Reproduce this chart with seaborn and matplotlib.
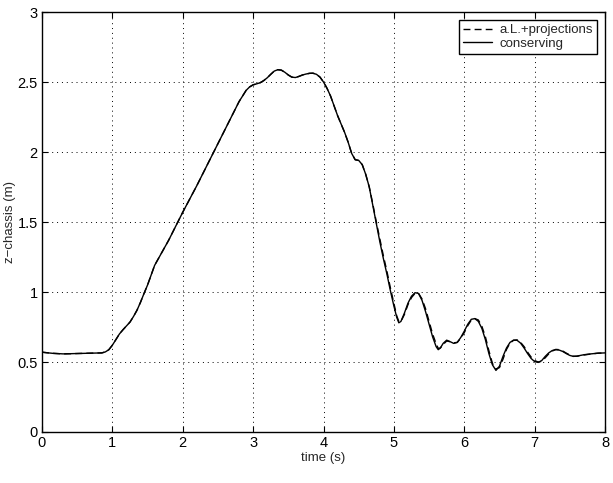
import numpy as np
import pandas as pd
import matplotlib
matplotlib.use('Agg')
import matplotlib.pyplot as plt
import seaborn as sns

# ── Data ─────────────────────────────────────────────────────
time_s = [0.0, 0.15, 0.3, 0.6, 0.8, 0.85, 0.9, 0.95, 1.0, 1.05, 1.1, 1.15,
          1.2, 1.25, 1.3, 1.35, 1.4, 1.45, 1.5, 1.55, 1.6, 1.7, 1.8, 1.9,
          2.0, 2.2, 2.4, 2.6, 2.8, 2.85, 2.9, 2.95, 3.0, 3.05, 3.1, 3.15,
          3.2, 3.25, 3.3, 3.35, 3.4, 3.45, 3.5, 3.55, 3.6, 3.65, 3.7, 3.75,
          3.8, 3.85, 3.9, 3.95, 4.0, 4.05, 4.1, 4.15, 4.2, 4.25, 4.3, 4.35,
          4.4, 4.45, 4.5, 4.55, 4.6, 4.65, 4.7, 4.75, 4.8, 4.85, 4.9, 4.95,
          5.0, 5.04, 5.07, 5.1, 5.15, 5.2, 5.25, 5.3, 5.35, 5.4, 5.45, 5.5,
          5.55, 5.6, 5.63, 5.66, 5.7, 5.75, 5.8, 5.85, 5.9, 5.95, 6.0, 6.05,
          6.1, 6.15, 6.2, 6.25, 6.3, 6.35, 6.4, 6.45, 6.5, 6.55, 6.6, 6.65,
          6.7, 6.75, 6.8, 6.85, 6.9, 6.95, 7.0, 7.05, 7.1, 7.15, 7.2, 7.25,
          7.3, 7.35, 7.4, 7.45, 7.5, 7.55, 7.6, 7.7, 7.8, 7.9, 8.0]

z_conserving = [0.57, 0.562, 0.558, 0.562, 0.564, 0.565, 0.572, 0.588, 0.62,
                0.66, 0.70, 0.73, 0.757, 0.785, 0.825, 0.87, 0.927, 0.99, 1.05,
                1.12, 1.19, 1.28, 1.37, 1.47, 1.57, 1.76, 1.96, 2.16, 2.36,
                2.40, 2.44, 2.465, 2.48, 2.487, 2.495, 2.51, 2.53, 2.555,
                2.578, 2.588, 2.585, 2.57, 2.55, 2.535, 2.532, 2.54, 2.55,
                2.557, 2.562, 2.563, 2.555, 2.535, 2.50, 2.455, 2.40, 2.33,
                2.26, 2.2, 2.14, 2.07, 1.99, 1.945, 1.94, 1.91, 1.84, 1.75,
                1.62, 1.49, 1.36, 1.24, 1.13, 1.01, 0.90, 0.82, 0.78, 0.79,
                0.85, 0.92, 0.97, 0.995, 0.99, 0.94, 0.86, 0.77, 0.68, 0.61,
                0.588, 0.60, 0.633, 0.656, 0.645, 0.633, 0.64, 0.675, 0.72,
                0.77, 0.805, 0.81, 0.79, 0.74, 0.66, 0.56, 0.48, 0.44, 0.47,
                0.54, 0.60, 0.64, 0.656, 0.655, 0.635, 0.6, 0.56, 0.525,
                0.503, 0.497, 0.51, 0.54, 0.565, 0.582, 0.588, 0.585, 0.575,
                0.56, 0.547, 0.54, 0.542, 0.552, 0.558, 0.563, 0.565]

z_projections = [0.57, 0.562, 0.558, 0.562, 0.564, 0.565, 0.572, 0.588, 0.62,
                 0.66, 0.70, 0.73, 0.757, 0.785, 0.825, 0.87, 0.927, 0.99,
                 1.05, 1.12, 1.19, 1.28, 1.37, 1.47, 1.57, 1.76, 1.96, 2.16,
                 2.36, 2.40, 2.44, 2.465, 2.48, 2.487, 2.495, 2.51, 2.53,
                 2.555, 2.578, 2.588, 2.585, 2.57, 2.55, 2.535, 2.532, 2.54,
                 2.55, 2.557, 2.562, 2.563, 2.555, 2.535, 2.50, 2.455, 2.40,
                 2.33, 2.26, 2.2, 2.14, 2.07, 1.99, 1.945, 1.94, 1.91, 1.84,
                 1.75, 1.63, 1.50, 1.38, 1.26, 1.15, 1.03, 0.92, 0.83, 0.79,
                 0.79, 0.84, 0.91, 0.96, 0.99, 0.99, 0.95, 0.88, 0.79, 0.70,
                 0.63, 0.597, 0.60, 0.625, 0.65, 0.645, 0.637, 0.64, 0.67,
                 0.71, 0.76, 0.80, 0.81, 0.80, 0.755, 0.68, 0.58, 0.49, 0.45,
                 0.46, 0.52, 0.59, 0.635, 0.655, 0.658, 0.64, 0.61, 0.57,
                 0.535, 0.51, 0.50, 0.505, 0.53, 0.558, 0.578, 0.59, 0.588,
                 0.578, 0.563, 0.55, 0.541, 0.541, 0.55, 0.557, 0.563, 0.565]

df = pd.DataFrame({'time': time_s,
                   'conserving': z_conserving,
                   'a.L.+projections': z_projections})

# ── Style ────────────────────────────────────────────────────
sns.set_style('ticks')
plt.rcParams['font.family'] = ['Liberation Sans', 'DejaVu Sans']
plt.rcParams['xtick.direction'] = 'in'
plt.rcParams['ytick.direction'] = 'in'

fig = plt.figure(figsize=(6.13, 4.83), dpi=100)
ax = fig.add_axes([0.0685, 0.1056, 0.9185, 0.8695])

sns.lineplot(data=df, x='time', y='a.L.+projections', ax=ax, color='black',
             linestyle=(0, (5, 3)), linewidth=1.0, label='a.L.+projections')
sns.lineplot(data=df, x='time', y='conserving', ax=ax, color='black',
             linewidth=1.0, label='conserving')

ax.set_xlim(0, 8)
ax.set_ylim(0, 3)
ax.set_xticks(range(0, 9))
ax.set_yticks([0, 0.5, 1, 1.5, 2, 2.5, 3])
ax.set_yticklabels(['0', '0.5', '1', '1.5', '2', '2.5', '3'])
ax.tick_params(labelsize=10.5, length=4, width=0.8, top=True, right=True,
               pad=3, colors='black')
ax.grid(True, linestyle=(0, (1, 4)), color='black', linewidth=0.7)
for sp in ax.spines.values():
    sp.set_visible(True)
    sp.set_linewidth(1.0)
    sp.set_color('black')

ax.set_xlabel('time (s)', fontsize=9.5, labelpad=1)
ax.set_ylabel('z\u2212chassis (m)', fontsize=9.5, labelpad=1)

leg = ax.legend(loc='upper right', fontsize=9.5, frameon=True, fancybox=False,
                handlelength=2.2, borderaxespad=0.6, borderpad=0.3,
                labelspacing=0.1, handletextpad=0.6)
leg.get_frame().set_edgecolor('black')
leg.get_frame().set_linewidth(1.0)
leg.get_frame().set_alpha(1)

plt.savefig('out.png', dpi=100)
plt.close()
